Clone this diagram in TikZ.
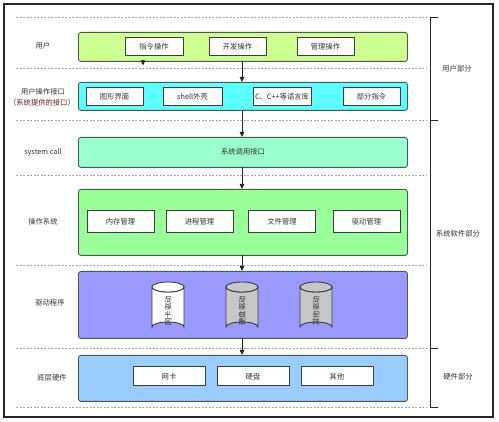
\documentclass[tikz,border=0pt]{standalone}
\usepackage{fontspec}
\setmainfont{Noto Sans CJK SC}
\setsansfont{Noto Sans CJK SC}
\usetikzlibrary{arrows.meta}
\definecolor{cUser}{HTML}{CCFF90}
\definecolor{cIface}{HTML}{5CFFFF}
\definecolor{cSys}{HTML}{99FFCC}
\definecolor{cOS}{HTML}{99FF99}
\definecolor{cDrv}{HTML}{9999FF}
\definecolor{cHw}{HTML}{99CCFF}
\definecolor{cBorder}{HTML}{4A5A4A}
\definecolor{cSub}{HTML}{3C3C3C}
\definecolor{cText}{HTML}{333333}
\definecolor{cRed}{HTML}{6B1A1A}
\tikzset{
  layer/.style={draw=cBorder, line width=0.9pt, rounded corners=2.5pt, minimum width=329pt, anchor=north west, inner sep=0pt},
  subbox/.style={draw=cSub, line width=1pt, fill=white, inner sep=0pt, font=\fontsize{7.3}{8}\selectfont, text=cText},
  lbl/.style={font=\fontsize{7.3}{9}\selectfont, text=cText, align=center},
  sep/.style={draw=gray!70, dashed, line width=0.5pt, dash pattern=on 2pt off 1.5pt},
  flow/.style={-{Triangle[length=5pt,width=4.5pt]}, line width=0.8pt, draw=black!85},
  cyl/.style={draw=cSub, line width=0.9pt}
}
\begin{document}
\begin{tikzpicture}[x=1pt,y=-1pt]
\useasboundingbox (0,0) rectangle (499,422);
\fill[white] (0,0) rectangle (499,422);
\draw[line width=1.2pt, black!85] (4,4) rectangle (493,417);
% dashed separators
\foreach \yy in {17,68,120,175,265,348,407} {
  \draw[sep] (16,\yy) -- (427,\yy);
}
% right bracket
\draw[line width=0.9pt, black!85] (438,17) -- (430,17) -- (430,407) -- (438,407);
\draw[line width=0.9pt, black!85] (430,120) -- (438,120);
\draw[line width=0.9pt, black!85] (430,348) -- (438,348);
\node[lbl] (pUser) at (457,69) {用户部分};
\node[lbl] (pSys) at (458,234) {系统软件部分};
\node[lbl] (pHw) at (458,377) {硬件部分};
% layers
\node[layer, fill=cUser, minimum height=29pt] (user) at (78,32) {};
\node[layer, fill=cIface, minimum height=28pt] (iface) at (78,82) {};
\node[layer, fill=cSys, minimum height=30pt] (sys) at (78,137) {};
\node[layer, fill=cOS, minimum height=66pt] (os) at (78,189) {};
\node[layer, fill=cDrv, minimum height=67pt] (drv) at (78,271) {};
\node[layer, fill=cHw, minimum height=46pt] (hw) at (78,355) {};
% left labels
\node[lbl] (lUser) at (43,46) {用户};
\node[lbl] (lIface) at (43,92) {用户操作接口};
\node[lbl, text=cRed] (lIface2) at (42,103) {（系统提供的接口）};
\node[lbl, font=\fontsize{7.3}{9}\sffamily] (lSys) at (43,152) {system call};
\node[lbl] (lOS) at (43,222) {操作系统};
\node[lbl] (lDrv) at (50,303) {驱动程序};
\node[lbl] (lHw) at (52,378) {底层硬件};
% user sub boxes
\node[subbox, minimum width=58pt, minimum height=18pt] (u1) at (154,47) {指令操作};
\node[subbox, minimum width=57pt, minimum height=18pt] (u2) at (237.5,47) {开发操作};
\node[subbox, minimum width=57pt, minimum height=18pt] (u3) at (325.5,47) {管理操作};
% interface sub boxes
\node[subbox, minimum width=57pt, minimum height=18pt] (i1) at (114.5,97) {图形界面};
\node[subbox, minimum width=59pt, minimum height=18pt] (i2) at (192.5,97) {shell外壳};
\node[subbox, minimum width=58pt, minimum height=18pt] (i3) at (282,97) {C、C++等语言库};
\node[subbox, minimum width=57pt, minimum height=18pt] (i4) at (371.5,97) {部分指令};
% system call text
\node[lbl] (sysT) at (243,152) {系统调用接口};
% OS sub boxes
\node[subbox, minimum width=67pt, minimum height=22pt] (o1) at (120.5,222) {内存管理};
\node[subbox, minimum width=67pt, minimum height=22pt] (o2) at (199.5,222) {进程管理};
\node[subbox, minimum width=67pt, minimum height=22pt] (o3) at (282,222) {文件管理};
\node[subbox, minimum width=67pt, minimum height=22pt] (o4) at (366.5,222) {驱动管理};
% cylinders
\foreach \cx/\fc/\nm/\tx in {168/white/c1/网卡驱动, 242/black!22/c2/硬盘驱动, 316/black!22/c3/其他驱动} {
  \draw[cyl, fill=\fc] (\cx-16,287) -- (\cx-16,327) arc[start angle=180, end angle=0, x radius=16pt, y radius=5pt] -- (\cx+16,287) arc[start angle=0, end angle=-180, x radius=16pt, y radius=5pt] -- cycle;
  \draw[cyl, fill=\fc] (\cx,287) ellipse [x radius=16pt, y radius=5pt];
  \node[rotate=90, font=\fontsize{7.3}{8}\selectfont, text=cText] (\nm) at (\cx,311) {\tx};
}
% hardware sub boxes
\node[subbox, minimum width=72pt, minimum height=19pt] (h1) at (169,376.5) {网卡};
\node[subbox, minimum width=72pt, minimum height=19pt] (h2) at (253,376.5) {硬盘};
\node[subbox, minimum width=72pt, minimum height=19pt] (h3) at (337,376.5) {其他};
% arrows
\coordinate (a0s) at (242,61);
\coordinate (a0e) at (242,82);
\draw[flow] (a0s) -- (a0e);
\coordinate (a1s) at (242,110);
\coordinate (a1e) at (242,137);
\draw[flow] (a1s) -- (a1e);
\coordinate (a2s) at (242,167);
\coordinate (a2e) at (242,189);
\draw[flow] (a2s) -- (a2e);
\coordinate (a3s) at (242,255);
\coordinate (a3e) at (242,271);
\draw[flow] (a3s) -- (a3e);
\coordinate (a4s) at (242,338);
\coordinate (a4e) at (242,355);
\draw[flow] (a4s) -- (a4e);
\coordinate (s0s) at (143,60.5);
\coordinate (s0e) at (143,65.5);
\draw[flow] (s0s) -- (s0e);
\end{tikzpicture}
\end{document}
